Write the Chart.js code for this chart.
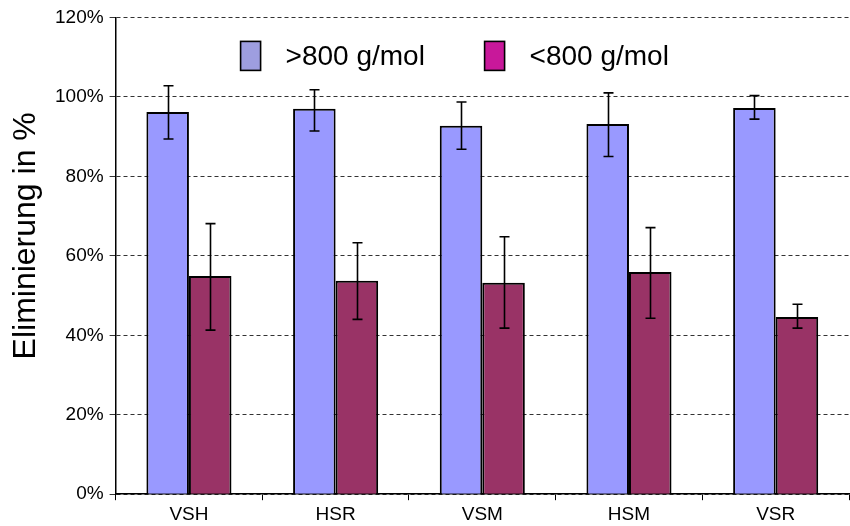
<!DOCTYPE html>
<html lang="de">
<head>
    <meta charset="UTF-8">
    <title>Eliminierung</title>
    <style>
        html, body { margin: 0; padding: 0; background: #fff; }
        .chart-box { width: 850px; height: 526px; }
    </style>
</head>
<body>
    <div class="chart-box">
        <canvas id="chart1"></canvas>
    </div>
    <script src="https://cdn.jsdelivr.net/npm/chart.js@4.4.1/dist/chart.umd.min.js"></script>
    <script>
        // Daten
        const categories = ['VSH', 'HSR', 'VSM', 'HSM', 'VSR'];
        const seriesNames = ['>800 g/mol', '<800 g/mol'];
        const highMass = [96.2, 97.0, 92.7, 93.2, 97.2];
        const highMassErrUp = [6.6, 4.8, 6.0, 7.8, 3.1];
        const highMassErrDown = [6.8, 5.6, 5.9, 8.2, 2.8];
        const lowMass = [54.9, 53.7, 53.2, 55.9, 44.6];
        const lowMassErrUp = [13.2, 9.6, 11.6, 11.2, 3.2];
        const lowMassErrDown = [13.6, 9.7, 11.4, 11.6, 2.8];
        const legendColors = ['#9e9ee0', '#c8189a'];
        const yTitle = 'Eliminierung in %';

        const FONT = "'Liberation Sans', Arial, sans-serif";

        // Fehlerbalken
        const errorBars = {
            id: 'errorBars',
            afterDatasetsDraw(chart) {
                const ctx = chart.ctx;
                const y = chart.scales.y;
                ctx.save();
                ctx.strokeStyle = '#000';
                ctx.lineWidth = 1.6;
                chart.data.datasets.forEach((ds, di) => {
                    const meta = chart.getDatasetMeta(di);
                    meta.data.forEach((bar, i) => {
                        const v = ds.data[i];
                        const top = y.getPixelForValue(v + ds.errUp[i]);
                        const bot = y.getPixelForValue(v - ds.errDown[i]);
                        const x = Math.round(bar.x) + 0.5;
                        ctx.beginPath();
                        ctx.moveTo(x, top);
                        ctx.lineTo(x, bot);
                        ctx.moveTo(x - 5, top);
                        ctx.lineTo(x + 5, top);
                        ctx.moveTo(x - 5, bot);
                        ctx.lineTo(x + 5, bot);
                        ctx.stroke();
                    });
                });
                ctx.restore();
            }
        };

        // Legende im Diagramm + Achsentitel (leicht nach oben versetzt wie im Original)
        const extras = {
            id: 'extras',
            afterDraw(chart) {
                const ctx = chart.ctx;
                const area = chart.chartArea;
                ctx.save();
                // Legende
                ctx.font = '28px ' + FONT;
                ctx.textBaseline = 'middle';
                ctx.fillStyle = '#000';
                const startX = [area.left + 125, area.left + 369];
                chart.data.datasets.forEach((ds, i) => {
                    const bx = startX[i];
                    const by = area.top + 24;
                    ctx.fillStyle = legendColors[i];
                    ctx.fillRect(bx, by, 20, 29);
                    ctx.strokeStyle = '#000';
                    ctx.lineWidth = 1.6;
                    ctx.strokeRect(bx, by, 20, 29);
                    ctx.fillStyle = '#000';
                    ctx.fillText(ds.label, bx + 45, by + 16);
                });
                // Achsentitel
                ctx.translate(26, (area.top + area.bottom) / 2 - 20);
                ctx.rotate(-Math.PI / 2);
                ctx.textAlign = 'center';
                ctx.font = '32px ' + FONT;
                ctx.fillText(yTitle, 0, 0);
                ctx.restore();
            }
        };

        new Chart(chart1, {
            type: 'bar',
            data: {
                labels: categories,
                datasets: [
                    {
                        label: seriesNames[0],
                        data: highMass,
                        errUp: highMassErrUp,
                        errDown: highMassErrDown,
                        backgroundColor: '#9999ff',
                        borderColor: '#000',
                        borderWidth: 2
                    },
                    {
                        label: seriesNames[1],
                        data: lowMass,
                        errUp: lowMassErrUp,
                        errDown: lowMassErrDown,
                        backgroundColor: '#993366',
                        borderColor: '#000',
                        borderWidth: 2
                    }
                ]
            },
            options: {
                responsive: true,
                maintainAspectRatio: false,
                animation: false,
                layout: { padding: { top: 10, right: 1, left: 49, bottom: -3 } },
                datasets: {
                    bar: { categoryPercentage: 0.58, barPercentage: 1 }
                },
                plugins: {
                    tooltip: { enabled: false },
                    legend: { display: false }
                },
                scales: {
                    x: {
                        grid: {
                            display: true,
                            offset: true,
                            drawOnChartArea: false,
                            color: '#000',
                            tickLength: 6
                        },
                        border: { color: '#000', width: 1.5 },
                        ticks: {
                            color: '#000',
                            font: { family: FONT, size: 19 },
                            padding: 3
                        }
                    },
                    y: {
                        min: 0,
                        max: 120,
                        grid: {
                            color: '#333',
                            lineWidth: 1,
                            tickLength: 6
                        },
                        border: { color: '#000', width: 1.5, dash: [4, 3] },
                        ticks: {
                            stepSize: 20,
                            color: '#000',
                            font: { family: FONT, size: 19 },
                            padding: 6,
                            callback: v => v + '%'
                        }
                    }
                }
            },
            plugins: [errorBars, extras]
        });
    </script>
</body>
</html>
